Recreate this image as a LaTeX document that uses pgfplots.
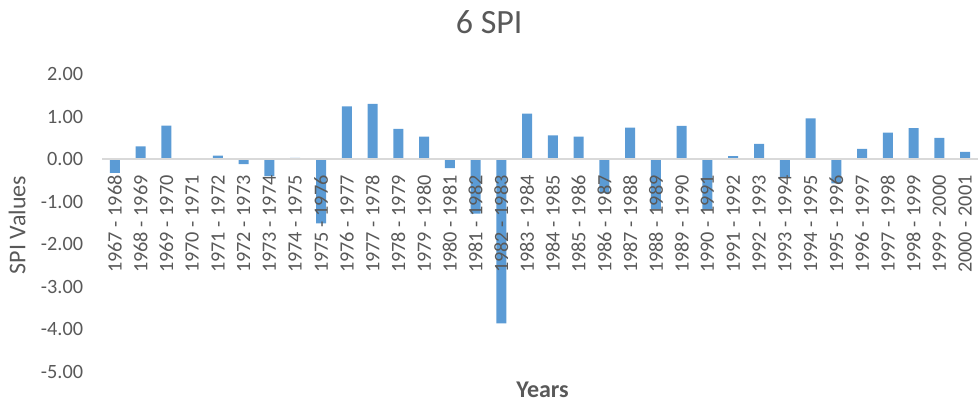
\documentclass[border=0pt]{standalone}
\usepackage{fontspec}
\setmainfont{Carlito}
\usepackage{pgfplots}
\pgfplotsset{compat=1.18}
\definecolor{barblue}{HTML}{5B9BD5}
\definecolor{txtgray}{HTML}{595959}
\definecolor{axgray}{HTML}{D9D9D9}
\begin{document}
\begin{tikzpicture}
\begin{axis}[
  set layers,
  at={(76.5pt,22.5pt)}, anchor=south west,
  scale only axis,
  width=657pt, height=223.5pt,
  xmin=-0.5, xmax=33.5,
  ymin=-5, ymax=2,
  axis x line=middle,
  axis y line=left,
  x axis line style={draw=axgray, line width=1.1pt, -},
  y axis line style={draw=none},
  major tick length=0pt,
  xtick={0,...,33},
  xticklabels={1967 - 1968,1968 - 1969,1969 - 1970,1970 - 1971,1971 - 1972,1972 - 1973,1973 - 1974,1974 - 1975,1975 - 1976,1976 - 1977,1977 - 1978,1978 - 1979,1979 - 1980,1980 - 1981,1981 - 1982,1982 - 1983,1983 - 1984,1984 - 1985,1985 - 1986,1986 - 1987,1987 - 1988,1988 - 1989,1989 - 1990,1990 - 1991,1991 - 1992,1992 - 1993,1993 - 1994,1994 - 1995,1995 - 1996,1996 - 1997,1997 - 1998,1998 - 1999,1999 - 2000,2000 - 2001},
  xticklabel style={rotate=90, anchor=east, inner sep=0pt, xshift=-12pt, font=\fontsize{15.2}{17}\selectfont, text=txtgray},
  ytick={-5,-4,-3,-2,-1,0,1,2},
  yticklabels={-5.00,-4.00,-3.00,-2.00,-1.00,0.00,1.00,2.00},
  yticklabel style={anchor=east, inner sep=0pt, xshift=-14pt, font=\fontsize{15.2}{17}\selectfont, text=txtgray},
  title={6 SPI},
  title style={at={(rel axis cs:0.442,1.147)}, anchor=center, font=\fontsize{25.5}{29}\selectfont, text=txtgray},
  xlabel={Years},
  xlabel style={at={(rel axis cs:0.503,-0.06)}, anchor=center, font=\fontsize{18}{20}\selectfont\bfseries, text=txtgray},
  ylabel={SPI Values},
  ylabel style={at={(rel axis cs:-0.097,0.493)}, anchor=center, rotate=0, font=\fontsize{18}{20}\selectfont, text=txtgray},
  clip=false,
]
\addplot[ybar, bar width=7.5pt, fill=barblue, draw=none, on layer=axis background] coordinates {
(0,-0.32) (1,0.30) (2,0.79) (3,0.01) (4,0.08) (5,-0.12) (6,-0.40) (7,0.03)
(8,-1.51) (9,1.24) (10,1.30) (11,0.71) (12,0.53) (13,-0.21) (14,-1.28) (15,-3.86)
(16,1.07) (17,0.56) (18,0.53) (19,-0.80) (20,0.74) (21,-1.17) (22,0.78) (23,-1.18)
(24,0.07) (25,0.36) (26,-0.42) (27,0.96) (28,-0.57) (29,0.24) (30,0.62) (31,0.73)
(32,0.50) (33,0.17)
};
\end{axis}
\pgfresetboundingbox
\path[use as bounding box] (0,0) rectangle (734.25pt,301.5pt);
\end{tikzpicture}
\end{document}
